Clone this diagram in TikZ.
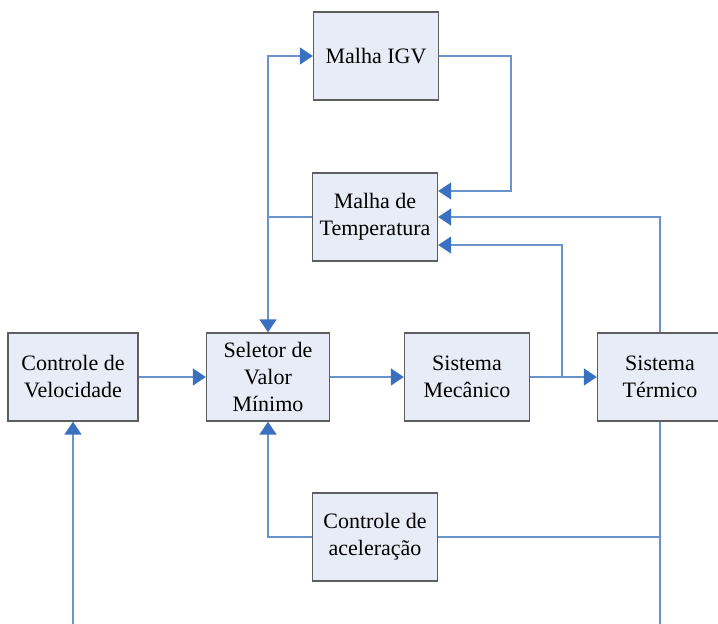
\documentclass[tikz,border=0pt]{standalone}
\usepackage{fontspec}
\setmainfont{Liberation Serif}
\usetikzlibrary{arrows.meta,calc}
\definecolor{cline}{HTML}{6A93CC}
\definecolor{ctip}{HTML}{3B6FBF}
\definecolor{cbox}{HTML}{E8ECF6}
\definecolor{cedge}{HTML}{5E5E5E}

\begin{document}
\begin{tikzpicture}[x=1pt, y=-1pt, every node/.style={font=\fontsize{22}{27}\selectfont, align=center}, box/.style={draw=cedge, fill=cbox, line width=1.4pt, minimum width=125pt, minimum height=88pt, inner sep=2pt}, link/.style={draw=cline, line width=1.8pt}, flow/.style={link, -{Triangle[length=13pt, width=17pt, color=ctip]}}]
    \useasboundingbox (0,0) rectangle (718,624);
    \node[box] (igv) at (376,56) {Malha IGV};
    \node[box] (temp) at (375,217) {Malha de\\Temperatura};
    \node[box, minimum width=130pt] (vel) at (73,377) {Controle de\\Velocidade};
    \node[box, minimum width=123pt] (sel) at (268,377) {Seletor de\\Valor\\Mínimo};
    \node[box] (mec) at (467,377) {Sistema\\Mecânico};
    \node[box] (ter) at (660,377) {Sistema\\Térmico};
    \node[box] (acel) at (375,537) {Controle de\\aceleração};
    \coordinate (split) at (562,377);
    \coordinate (vbot) at (73,624);
    \coordinate (tbot) at (660,624);
    % main chain
    \draw[flow] (vel) -- (sel);
    \draw[flow] (sel) -- (mec);
    \draw[flow] (mec) -- (ter);
    % upper loops
    \draw[flow] (temp.west) -| (sel.north);
    \draw[flow] (sel.north |- temp.west) |- (igv.west);
    \draw[flow] (igv.east) -- ++(72,0) |- ($(temp.east)+(0,-26)$);
    \draw[flow] (ter.north) |- (temp.east);
    \draw[flow] (split) |- ($(temp.east)+(0,28)$);
    % lower loops
    \draw[link] (ter.south) -- (tbot);
    \draw[link] (acel.east) -- (acel.east -| ter.south);
    \draw[flow] (acel.west) -| (sel.south);
    \draw[flow] (vbot) -- (vel.south);
  \end{tikzpicture}
\end{document}
